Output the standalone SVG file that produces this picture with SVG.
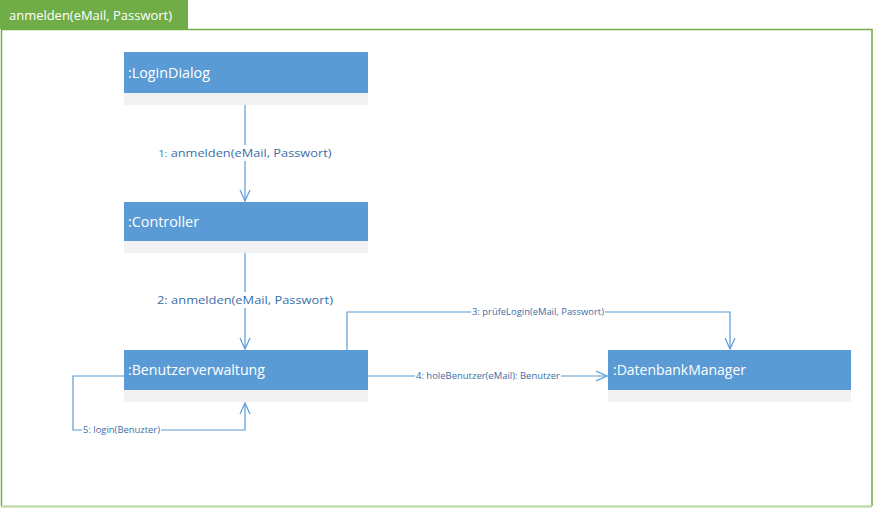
<svg xmlns="http://www.w3.org/2000/svg" width="874" height="508" viewBox="0 0 874 508">
<defs>
<style>
.frame{fill:none;stroke:#70ad47;stroke-width:1.5}
.tab{fill:#70ad47}
.tabt{font-family:"Open Sans","Liberation Sans",sans-serif;font-size:13px;fill:#ffffff}
.head{fill:#5b9bd5}
.foot{fill:#f2f2f2}
.nt{font-family:"Open Sans","Liberation Sans",sans-serif;font-size:14px;fill:#ffffff}
.con{fill:none;stroke:#5b9bd5;stroke-width:1.2}
.lbl{font-family:"Open Sans","Liberation Sans",sans-serif;fill:#3a6ea8;text-anchor:middle}
.bg{fill:#ffffff}
</style>
<marker id="arr" viewBox="0 0 12 12" refX="11" refY="6" markerWidth="12" markerHeight="12" markerUnits="userSpaceOnUse" orient="auto">
<path d="M0,1 L11,6 L0,11" fill="none" stroke="#5b9bd5" stroke-width="1.2"/>
</marker>
</defs>
<rect width="874" height="508" fill="#ffffff"/>
<g id="frame">
<path class="frame" d="M1.5,506 V29.5 H872 V506"/>
<path d="M1,506.5 H872" fill="none" stroke="#b5d69f" stroke-width="2"/>
<rect class="tab" x="0" y="0" width="188" height="29"/>
<text class="tabt" x="9" y="20" textLength="163" lengthAdjust="spacingAndGlyphs">anmelden(eMail, Passwort)</text>
</g>
<g id="connectors">
<path class="con" d="M245,105 V201" marker-end="url(#arr)"/>
<path class="con" d="M245,253 V349" marker-end="url(#arr)"/>
<path class="con" d="M347,350 V312 H730 V349" marker-end="url(#arr)"/>
<path class="con" d="M368,376 H607" marker-end="url(#arr)"/>
<path class="con" d="M124,376 H73 V430 H245 V403" marker-end="url(#arr)"/>
<rect class="bg" x="158" y="145" width="176" height="16"/>
<text class="lbl" x="245" y="157" font-size="11.5" textLength="173" lengthAdjust="spacingAndGlyphs"><tspan font-size="9.5">1:</tspan> anmelden(eMail, Passwort)</text>
<rect class="bg" x="156" y="292" width="179" height="16"/>
<text class="lbl" x="245" y="304" font-size="11.5" textLength="176" lengthAdjust="spacingAndGlyphs">2: anmelden(eMail, Passwort)</text>
<rect class="bg" x="471" y="306" width="134" height="12"/>
<text class="lbl" x="538" y="315" font-size="9" textLength="132" lengthAdjust="spacingAndGlyphs">3: prüfeLogin(eMail, Passwort)</text>
<rect class="bg" x="415" y="370" width="146" height="12"/>
<text class="lbl" x="488" y="379" font-size="9" textLength="144" lengthAdjust="spacingAndGlyphs">4: holeBenutzer(eMail): Benutzer</text>
<rect class="bg" x="82" y="424" width="79" height="12"/>
<text class="lbl" x="121.5" y="433" font-size="9" textLength="77" lengthAdjust="spacingAndGlyphs">5: login(Benuzter)</text>
</g>
<g id="LoginDialog">
<rect class="head" x="124" y="52" width="244" height="41"/>
<rect class="foot" x="124" y="93" width="244" height="12"/>
<text class="nt" x="128" y="78" textLength="82" lengthAdjust="spacingAndGlyphs">:LoginDialog</text>
</g>
<g id="Controller">
<rect class="head" x="124" y="202" width="244" height="39"/>
<rect class="foot" x="124" y="241" width="244" height="12"/>
<text class="nt" x="128" y="227" textLength="71" lengthAdjust="spacingAndGlyphs">:Controller</text>
</g>
<g id="Benutzerverwaltung">
<rect class="head" x="124" y="350" width="244" height="40"/>
<rect class="foot" x="124" y="390" width="244" height="12"/>
<text class="nt" x="128" y="375" textLength="137" lengthAdjust="spacingAndGlyphs">:Benutzerverwaltung</text>
</g>
<g id="DatenbankManager">
<rect class="head" x="608" y="350" width="243" height="40"/>
<rect class="foot" x="608" y="390" width="243" height="12"/>
<text class="nt" x="613" y="375" textLength="133" lengthAdjust="spacingAndGlyphs">:DatenbankManager</text>
</g>
</svg>
